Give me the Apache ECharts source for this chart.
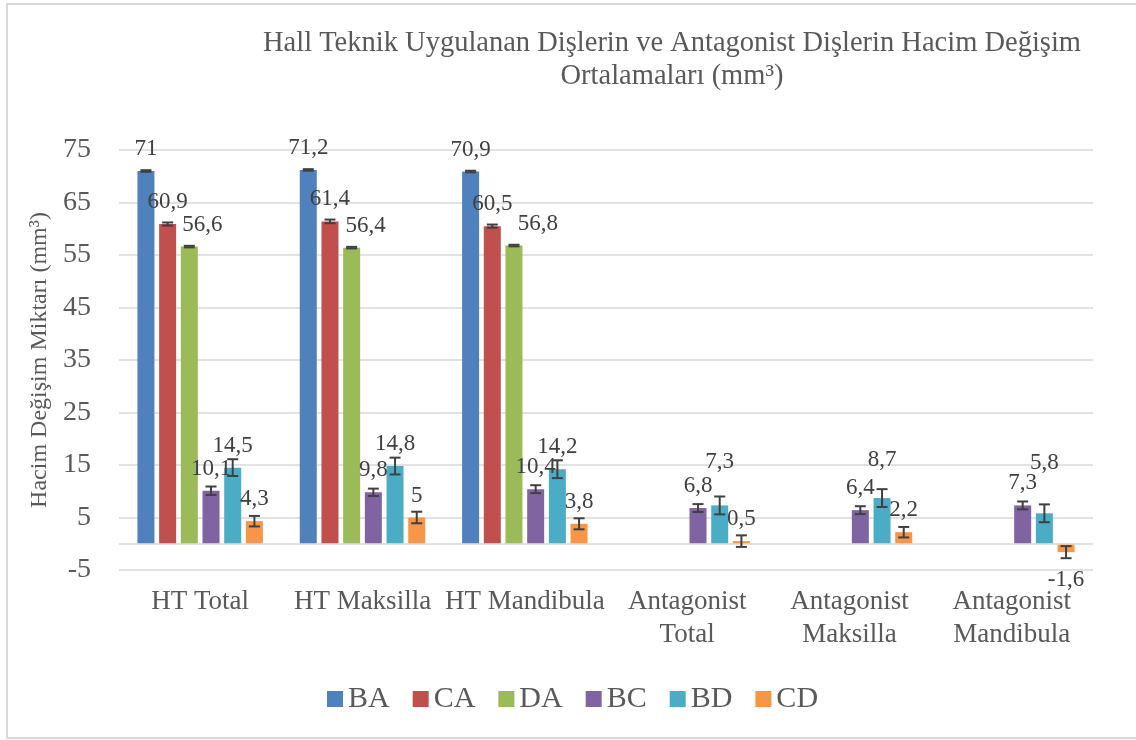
<!DOCTYPE html>
<html>
<head>
<meta charset="utf-8">
<script src="https://cdn.jsdelivr.net/npm/echarts@6/dist/echarts.min.js"></script>
<style>
  html, body { margin: 0; padding: 0; background: #ffffff; }
  #chart { width: 1136px; height: 740px; }
</style>
</head>
<body>
<div id="chart"></div>
<script>
// ---- data ----
const categories = ['HT Total', 'HT Maksilla', 'HT Mandibula', 'Antagonist Total', 'Antagonist Maksilla', 'Antagonist Mandibula'];
const seriesNames = ['BA', 'CA', 'DA', 'BC', 'BD', 'CD'];
const BA = [71, 71.2, 70.9, null, null, null];
const CA = [60.9, 61.4, 60.5, null, null, null];
const DA = [56.6, 56.4, 56.8, null, null, null];
const BC = [10.1, 9.8, 10.4, 6.8, 6.4, 7.3];
const BD = [14.5, 14.8, 14.2, 7.3, 8.7, 5.8];
const CD = [4.3, 5, 3.8, 0.5, 2.2, -1.6];
// error bar half-widths (estimated)
const BA_err = [0.15, 0.15, 0.15, null, null, null];
const CA_err = [0.3, 0.35, 0.3, null, null, null];
const DA_err = [0.15, 0.15, 0.15, null, null, null];
const BC_err = [0.8, 0.7, 0.75, 0.75, 0.75, 0.75];
const BD_err = [1.6, 1.6, 1.7, 1.7, 1.7, 1.7];
const CD_err = [1.0, 1.1, 1.05, 1.1, 1.0, 1.15];
const yTicks = { min: -5, max: 75, interval: 10 };

// ---- styling ----
const colors = ['#4F81BD', '#C0504D', '#9BBB59', '#8064A2', '#4BACC6', '#F79646'];
const FONT = '"Liberation Serif", "Times New Roman", serif';
const BAR_W = 17, BAR_GAP = 0.276;
const STEP = BAR_W * (1 + BAR_GAP);
// manual label nudges (like the original's hand-placed labels)
const labelNudge = {
  DA: [[13, 0], [14, 0], [24, 0]],
  BD: [null, null, null, [0, -21], [0, -16], [0, -28]]
};

const values = [BA, CA, DA, BC, BD, CD];
const errs = [BA_err, CA_err, DA_err, BC_err, BD_err, CD_err];

function fmt(v) { return String(v).replace('.', ','); }

const barSeries = seriesNames.map((name, si) => ({
  name: name,
  type: 'bar',
  barWidth: BAR_W,
  barGap: (BAR_GAP * 100) + '%',
  itemStyle: { color: colors[si] },
  label: {
    show: true,
    position: 'top',
    distance: 10,
    fontFamily: FONT,
    fontSize: 23,
    lineHeight: 24,
    color: '#404040',
    formatter: p => fmt(p.value)
  },
  data: values[si].map((v, ci) => {
    if (v == null) return null;
    const item = { value: v };
    const lbl = {};
    const n = labelNudge[name] && labelNudge[name][ci];
    if (n) lbl.offset = n;
    if (v < 0) { lbl.position = 'bottom'; lbl.distance = 16; }
    if (Object.keys(lbl).length) item.label = lbl;
    return item;
  }),
  markLine: si === 0 ? {
    silent: true,
    symbol: 'none',
    label: { show: false },
    lineStyle: { color: '#d9d9d9', type: 'solid', width: 1.5 },
    data: [{ yAxis: 0 }]
  } : undefined,
  z: 2
}));

const errData = [];
values.forEach((arr, si) => arr.forEach((v, ci) => {
  if (v != null && errs[si][ci] != null) errData.push([ci, si, v, errs[si][ci]]);
}));

const errorSeries = {
  type: 'custom',
  name: 'err',
  z: 5,
  silent: true,
  encode: { x: 0, y: 2 },
  data: errData,
  renderItem: function (params, api) {
    const ci = api.value(0), si = api.value(1), v = api.value(2), e = api.value(3);
    const base = api.coord([ci, v]);
    const x = base[0] + (si - 2.5) * STEP;
    const yHi = api.coord([ci, v + e])[1];
    const yLo = api.coord([ci, v - e])[1];
    const hw = 5.5;
    const style = { stroke: '#404040', lineWidth: 2 };
    return {
      type: 'group',
      children: [
        { type: 'line', shape: { x1: x, y1: yHi, x2: x, y2: yLo }, style: style },
        { type: 'line', shape: { x1: x - hw, y1: yHi, x2: x + hw, y2: yHi }, style: style },
        { type: 'line', shape: { x1: x - hw, y1: yLo, x2: x + hw, y2: yLo }, style: style }
      ]
    };
  }
};

const chart = echarts.init(document.getElementById('chart'), null, { renderer: 'canvas' });
chart.setOption({
  animation: false,
  backgroundColor: '#ffffff',
  textStyle: { fontFamily: FONT },
  title: {
    text: 'Hall Teknik Uygulanan Dişlerin ve Antagonist Dişlerin Hacim Değişim\nOrtalamaları (mm³)',
    left: 667,
    top: 22,
    textAlign: 'center',
    textStyle: { fontFamily: FONT, fontSize: 28.5, lineHeight: 33, fontWeight: 'normal', color: '#595959' }
  },
  graphic: [{
    type: 'rect',
    shape: { x: 7, y: 4, width: 1140, height: 734 },
    style: { fill: 'none', stroke: '#d9d9d9', lineWidth: 2 },
    silent: true
  }],
  legend: {
    data: seriesNames,
    left: 322,
    top: 679,
    icon: 'rect',
    itemWidth: 16,
    itemHeight: 16,
    itemGap: 23,
    textStyle: { fontFamily: FONT, fontSize: 30, color: '#595959' }
  },
  grid: { left: 119, right: 43, top: 150, bottom: 170, containLabel: false },
  xAxis: {
    type: 'category',
    data: categories,
    axisLine: { show: false, onZero: false },
    axisTick: { show: false },
    axisLabel: {
      interval: 0,
      margin: 15,
      fontFamily: FONT,
      fontSize: 27,
      lineHeight: 33,
      color: '#595959',
      formatter: v => v.replace(/^Antagonist /, 'Antagonist\n')
    },
    splitLine: { show: false }
  },
  yAxis: {
    type: 'value',
    min: yTicks.min,
    max: yTicks.max,
    interval: yTicks.interval,
    name: 'Hacim Değişim Miktarı (mm³)',
    nameLocation: 'middle',
    nameGap: 65,
    nameTextStyle: { fontFamily: FONT, fontSize: 24, color: '#595959' },
    axisLine: { show: false },
    axisTick: { show: false },
    axisLabel: { margin: 28, fontFamily: FONT, fontSize: 28, color: '#595959' },
    splitLine: { lineStyle: { color: '#d9d9d9', width: 1.5 } }
  },
  series: barSeries.concat([errorSeries])
});
</script>
</body>
</html>
